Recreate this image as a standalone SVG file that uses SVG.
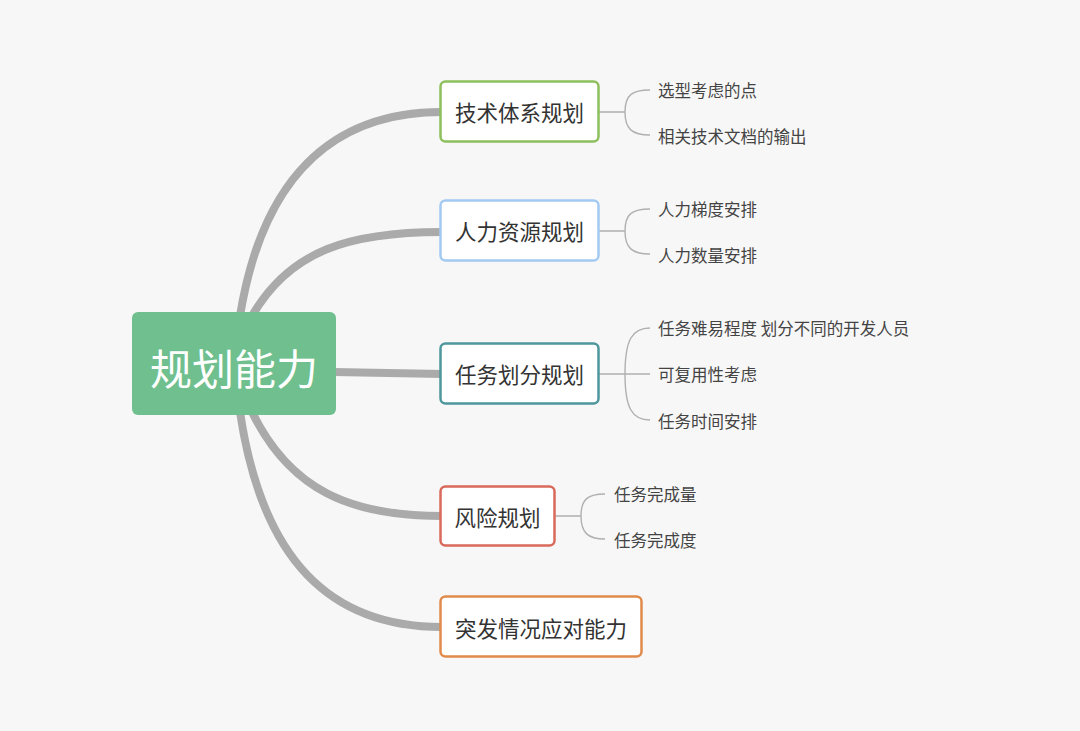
<svg xmlns="http://www.w3.org/2000/svg" width="1080" height="731" viewBox="0 0 1080 731">
<style>
.bg{fill:#f7f7f7}
.main{fill:none;stroke:#aaaaaa;stroke-width:8;stroke-linecap:butt}
.sub{fill:none;stroke:#b0b0b0;stroke-width:1.4}
.box{fill:#ffffff;stroke-width:2.5}
.t{font-family:"Noto Sans CJK SC","Noto Sans",sans-serif;fill:#333333;font-size:21.5px;dominant-baseline:central}
.s{font-family:"Noto Sans CJK SC","Noto Sans",sans-serif;fill:#444444;font-size:16.5px;dominant-baseline:central}
</style>
<rect class="bg" x="0" y="0" width="1080" height="731"/>
<g id="connectors">
<path class="main" d="M 240 316 C 262 180, 330 112, 442 112"/>
<path class="main" d="M 252 316 C 290 250, 350 232, 442 232"/>
<path class="main" d="M 334 372 L 442 374"/>
<path class="main" d="M 252 412 C 290 490, 350 516, 442 516"/>
<path class="main" d="M 240 412 C 262 560, 330 627, 442 627"/>
<path class="sub" d="M 599 112 L 625 112 M 625 112 C 625 95, 632 90, 650 90 M 625 112 C 625 129, 632 135, 650 135"/>
<path class="sub" d="M 599 231 L 625 231 M 625 231 C 625 214, 632 209, 650 209 M 625 231 C 625 248, 632 254, 650 254"/>
<path class="sub" d="M 599 374 L 650 374 M 625 374 C 625 340, 632 328, 650 328 M 625 374 C 625 408, 632 420, 650 420"/>
<path class="sub" d="M 555 516 L 581 516 M 581 516 C 581 499, 588 494, 605 494 M 581 516 C 581 533, 588 539, 605 539"/>
</g>
<g id="root">
<rect x="132" y="312" width="204" height="103" rx="6" fill="#6fbf8f"/>
<text x="234" y="366" text-anchor="middle" font-family="Noto Sans CJK SC, Noto Sans, sans-serif" font-size="42" fill="#ffffff" dominant-baseline="central">规划能力</text>
</g>
<g id="n1">
<rect class="box" x="440.5" y="81.5" width="158" height="60" rx="5" stroke="#8dc05d"/>
<text class="t" x="519.5" y="111.5" text-anchor="middle">技术体系规划</text>
</g>
<g id="n1a"><text class="s" x="658" y="90">选型考虑的点</text></g>
<g id="n1b"><text class="s" x="658" y="136">相关技术文档的输出</text></g>
<g id="n2">
<rect class="box" x="440.5" y="200.5" width="158" height="60" rx="5" stroke="#a3caf2"/>
<text class="t" x="519.5" y="230.5" text-anchor="middle">人力资源规划</text>
</g>
<g id="n2a"><text class="s" x="658" y="209">人力梯度安排</text></g>
<g id="n2b"><text class="s" x="658" y="255">人力数量安排</text></g>
<g id="n3">
<rect class="box" x="440.5" y="343.5" width="158" height="60" rx="5" stroke="#4e979d"/>
<text class="t" x="519.5" y="373.5" text-anchor="middle">任务划分规划</text>
</g>
<g id="n3a"><text class="s" x="658" y="328">任务难易程度 划分不同的开发人员</text></g>
<g id="n3b"><text class="s" x="658" y="374">可复用性考虑</text></g>
<g id="n3c"><text class="s" x="658" y="421">任务时间安排</text></g>
<g id="n4">
<rect class="box" x="440.5" y="486.5" width="114" height="59" rx="5" stroke="#d9695b"/>
<text class="t" x="497.5" y="516" text-anchor="middle">风险规划</text>
</g>
<g id="n4a"><text class="s" x="614" y="494">任务完成量</text></g>
<g id="n4b"><text class="s" x="614" y="540">任务完成度</text></g>
<g id="n5">
<rect class="box" x="440.5" y="596.5" width="201" height="60" rx="5" stroke="#e08a4b"/>
<text class="t" x="541" y="627" text-anchor="middle">突发情况应对能力</text>
</g>
</svg>
